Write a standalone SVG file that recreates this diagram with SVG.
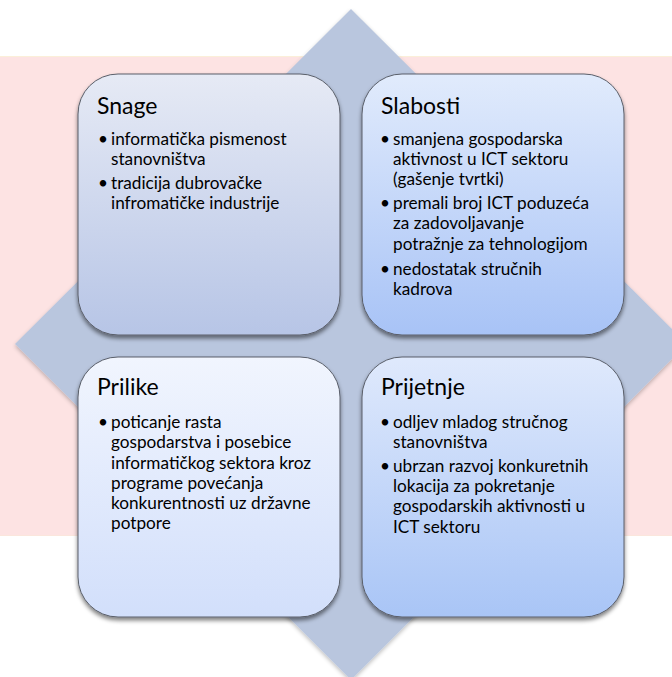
<svg xmlns="http://www.w3.org/2000/svg" width="672" height="677" viewBox="0 0 672 677">
<defs>
<linearGradient id="gS" x1="0" y1="0" x2="0" y2="1"><stop offset="0" stop-color="#e6eaf5"/><stop offset="1" stop-color="#b7c5e6"/></linearGradient>
<linearGradient id="gW" x1="0" y1="0" x2="0" y2="1"><stop offset="0" stop-color="#e1ebfc"/><stop offset="1" stop-color="#a8c3f6"/></linearGradient>
<linearGradient id="gO" x1="0" y1="0" x2="0" y2="1"><stop offset="0" stop-color="#f1f5fe"/><stop offset="1" stop-color="#d2dffb"/></linearGradient>
<linearGradient id="gT" x1="0" y1="0" x2="0" y2="1"><stop offset="0" stop-color="#dfe9fc"/><stop offset="1" stop-color="#a9c5f6"/></linearGradient>
<filter id="sh" x="-10%" y="-10%" width="120%" height="125%"><feGaussianBlur in="SourceAlpha" stdDeviation="2"/><feOffset dx="0" dy="2.5"/><feComponentTransfer><feFuncA type="linear" slope="0.5"/></feComponentTransfer><feMerge><feMergeNode/><feMergeNode in="SourceGraphic"/></feMerge></filter>
<filter id="dsh" x="-10%" y="-10%" width="120%" height="120%"><feGaussianBlur in="SourceAlpha" stdDeviation="2"/><feOffset dx="0" dy="2"/><feComponentTransfer><feFuncA type="linear" slope="0.25"/></feComponentTransfer><feMerge><feMergeNode/><feMergeNode in="SourceGraphic"/></feMerge></filter>
</defs>
<style>
.box{stroke:#5a5f6a;stroke-width:1;filter:url(#sh)}
.t{font-family:Lato,"Liberation Sans",sans-serif;font-size:23px;fill:#000}
.b{font-family:Lato,"Liberation Sans",sans-serif;font-size:17.2px;fill:#000}
</style>
<rect x="0" y="0" width="672" height="677" fill="#ffffff"/>
<rect id="band" x="0" y="56" width="672" height="480" fill="#fde3e3"/>
<line x1="0" y1="56.5" x2="672" y2="56.5" stroke="#fbefd9" stroke-width="1"/>
<line x1="0" y1="535.5" x2="672" y2="535.5" stroke="#fbe6dc" stroke-width="1"/>
<polygon id="diamond" points="351,9 687,344 351,680 15,344" fill="#b9c6de" filter="url(#dsh)"/>
<g id="connectors"></g>
<g id="snage">
<rect class="box" x="78" y="74" width="262" height="261" rx="40" fill="url(#gS)"/>
<text class="t" x="97" y="114">Snage</text>
<g class="b">
<text x="98" y="145">•</text>
<text x="111" y="145">informatička pismenost</text>
<text x="111" y="165">stanovništva</text>
<text x="98" y="189">•</text>
<text x="111" y="189">tradicija dubrovačke</text>
<text x="111" y="209">infromatičke industrije</text>
</g>
</g>
<g id="slabosti">
<rect class="box" x="362" y="74" width="262" height="261" rx="40" fill="url(#gW)"/>
<text class="t" x="381" y="114">Slabosti</text>
<g class="b">
<text x="380" y="145">•</text>
<text x="393" y="145">smanjena gospodarska</text>
<text x="393" y="165">aktivnost u ICT sektoru</text>
<text x="393" y="185">(gašenje tvrtki)</text>
<text x="380" y="209">•</text>
<text x="393" y="209">premali broj ICT poduzeća</text>
<text x="393" y="229">za zadovoljavanje</text>
<text x="393" y="250">potražnje za tehnologijom</text>
<text x="380" y="275">•</text>
<text x="393" y="275">nedostatak stručnih</text>
<text x="393" y="295">kadrova</text>
</g>
</g>
<g id="prilike">
<rect class="box" x="78" y="357" width="262" height="260" rx="40" fill="url(#gO)"/>
<text class="t" x="97" y="395">Prilike</text>
<g class="b">
<text x="98" y="428">•</text>
<text x="111" y="428">poticanje rasta</text>
<text x="111" y="448">gospodarstva i posebice</text>
<text x="111" y="469">informatičkog sektora kroz</text>
<text x="111" y="489">programe povećanja</text>
<text x="111" y="509">konkurentnosti uz državne</text>
<text x="111" y="529">potpore</text>
</g>
</g>
<g id="prijetnje">
<rect class="box" x="362" y="357" width="262" height="260" rx="40" fill="url(#gT)"/>
<text class="t" x="381" y="395">Prijetnje</text>
<g class="b">
<text x="380" y="428">•</text>
<text x="393" y="428">odljev mladog stručnog</text>
<text x="393" y="448">stanovništva</text>
<text x="380" y="472">•</text>
<text x="393" y="472">ubrzan razvoj konkuretnih</text>
<text x="393" y="492">lokacija za pokretanje</text>
<text x="393" y="512">gospodarskih aktivnosti u</text>
<text x="393" y="533">ICT sektoru</text>
</g>
</g>
</svg>
